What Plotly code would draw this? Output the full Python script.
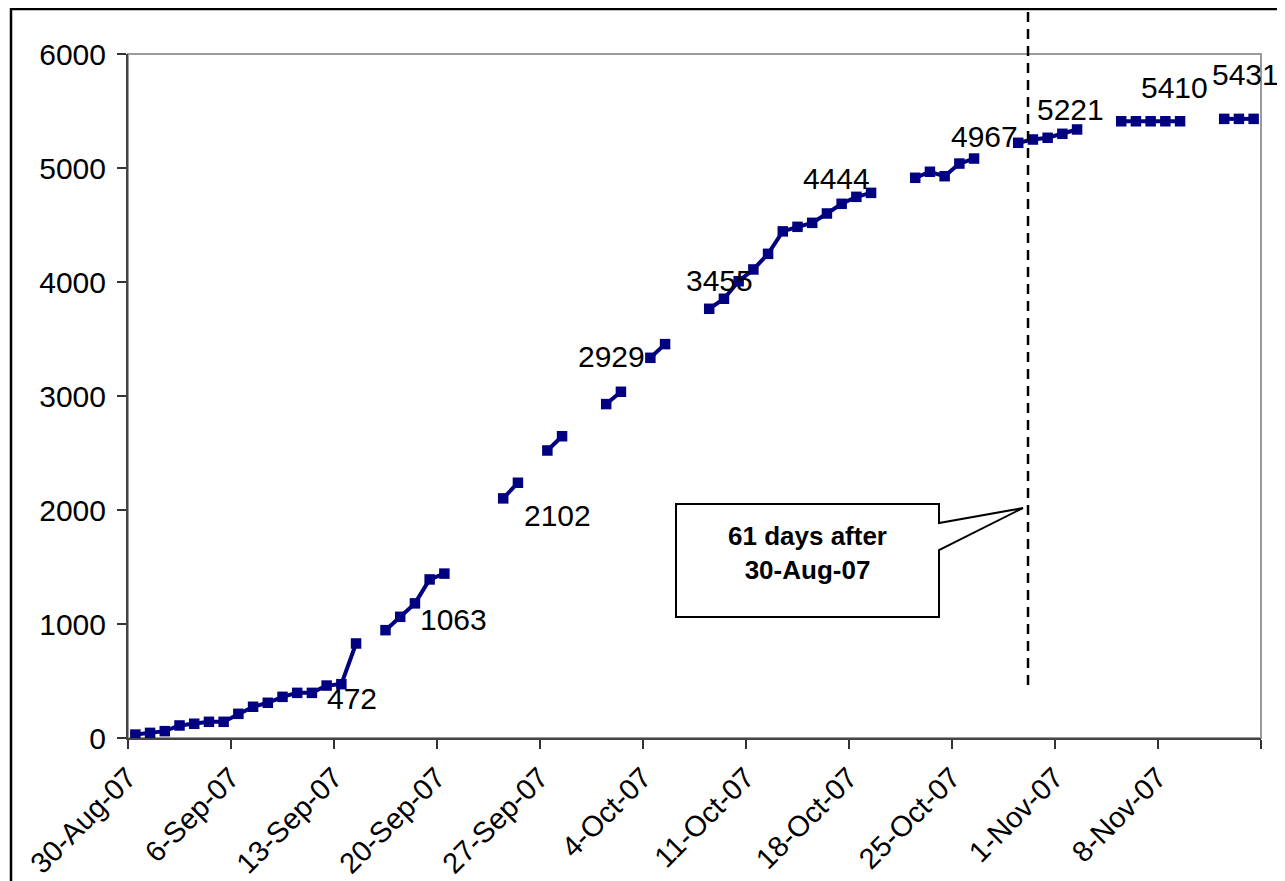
import pandas as pd
import plotly.graph_objects as go

# ---------------- data ----------------
start_date = "2007-08-30"
end_date = "2007-11-14"
dates = pd.date_range(start_date, end_date, freq="D")

counts = [
    30, 45, 60, 110, 125, 142, 142, 212, 274, 309, 361, 396, 396, 460, 472, 829,
    None,
    946, 1063, 1181, 1391, 1442,
    None, None, None,
    2102, 2239,
    None,
    2522, 2647,
    None, None,
    2929, 3037,
    None,
    3335, 3455,
    None, None,
    3765, 3853, 4007, 4110, 4247, 4444, 4484, 4519, 4601, 4686, 4747, 4782,
    None, None,
    4914, 4967, 4928, 5039, 5083,
    None, None,
    5221, 5250, 5265, 5300, 5338,
    None, None,
    5410, 5410, 5410, 5410, 5410,
    None, None,
    5431, 5431, 5431,
]

# labelled points (day index into dates)
label_days = [14, 18, 25, 32, 36, 44, 54, 60, 67, 74]
label_texts = [str(counts[d]) for d in label_days]
label_xshift = [11, 53, 54, 5, 54, 54, 55, 52, 53, 21]
label_yshift = [-14, -3, -17, 48, 64, 53, 35, 33, 34, 44]

tick_dates = pd.date_range("2007-08-30", "2007-11-15", freq="7D")
tick_texts = [d.strftime("%-d-%b-%y") for d in tick_dates]
tick_texts[-1] = ""

event_days = 61
event_text = "<b>61 days after<br>30-Aug-07</b>"

# ---------------- figure ----------------
OFF = 8  # page body margin
W, H = 1277, 873
ML, MR, MT, MB = 120, 24, 46, 143
PW, PH = W - ML - MR, H - MT - MB


def px(x):  # page pixel -> paper
    return (x - OFF - ML) / PW


def py(y):
    return (H - MB - (y - OFF)) / PH


x_start = pd.Timestamp("2007-08-30")
x_end = pd.Timestamp("2007-11-15")
xvals = dates + pd.Timedelta(hours=12)

FONT = "Arial, Liberation Sans, sans-serif"
NAVY = "#000080"

fig = go.Figure()
fig.add_trace(go.Scatter(
    x=xvals, y=counts, mode="lines+markers",
    line=dict(color=NAVY, width=4),
    marker=dict(symbol="square", size=10.5, color=NAVY),
    connectgaps=False, showlegend=False,
))

for d, t, xs, ys in zip(label_days, label_texts, label_xshift, label_yshift):
    fig.add_annotation(x=xvals[d], y=counts[d], text=t, showarrow=False,
                       xshift=xs, yshift=ys, xanchor="center", yanchor="middle",
                       font=dict(family=FONT, size=30, color="black"))

# event line position (paper coords from date)
event_x = x_start + pd.Timedelta(days=event_days, hours=4)
ex = (event_x - x_start) / (x_end - x_start)

shapes = [
    # plot area border
    dict(type="rect", xref="paper", yref="paper", x0=0, y0=0, x1=1, y1=1,
         line=dict(color="#9a9a9a", width=2), layer="below"),
    # chart border
    dict(type="rect", xref="paper", yref="paper", x0=px(11), y0=py(9), x1=px(1300), y1=py(900),
         line=dict(color="black", width=2.5), layer="below"),
    # dashed event line
    dict(type="line", xref="paper", yref="paper", x0=ex, x1=ex, y0=py(-5), y1=py(688),
         line=dict(color="black", width=2.5, dash="10px,7px")),
    # callout
    dict(type="path", xref="paper", yref="paper",
         path=(f"M {px(676)},{py(504)} L {px(939)},{py(504)} L {px(939)},{py(523)} "
               f"L {px(1023)},{py(508)} L {px(939)},{py(550)} L {px(939)},{py(617)} "
               f"L {px(676)},{py(617)} Z"),
         line=dict(color="black", width=2), fillcolor="white"),
]

fig.add_annotation(xref="paper", yref="paper", x=px(807), y=py(553), text=event_text,
                   showarrow=False, align="center", xanchor="center", yanchor="middle",
                   font=dict(family=FONT, size=26, color="black"))

fig.update_layout(
    width=W, height=H, autosize=False,
    margin=dict(l=ML, r=MR, t=MT, b=MB, pad=0, autoexpand=False),
    paper_bgcolor="white", plot_bgcolor="white",
    shapes=shapes,
    font=dict(family=FONT, size=30, color="black"),
    xaxis=dict(
        type="date", range=[x_start, x_end], automargin=False,
        tickmode="array", tickvals=tick_dates, ticktext=tick_texts,
        tickangle=-45, ticks="outside", ticklen=9, tickwidth=1.5, tickcolor="#333",
        showline=True, linecolor="#444", linewidth=2, showgrid=False, zeroline=False,
        tickfont=dict(family=FONT, size=29, color="black"),
    ),
    yaxis=dict(
        range=[0, 6000], tickvals=[0, 1000, 2000, 3000, 4000, 5000, 6000], automargin=False,
        ticks="outside", ticklen=9, tickwidth=1.5, tickcolor="#333",
        showline=True, linecolor="#444", linewidth=2, showgrid=False, zeroline=False,
        tickfont=dict(family=FONT, size=30, color="black"), ticklabelstandoff=5,
    ),
)

fig.write_html("out.html")
